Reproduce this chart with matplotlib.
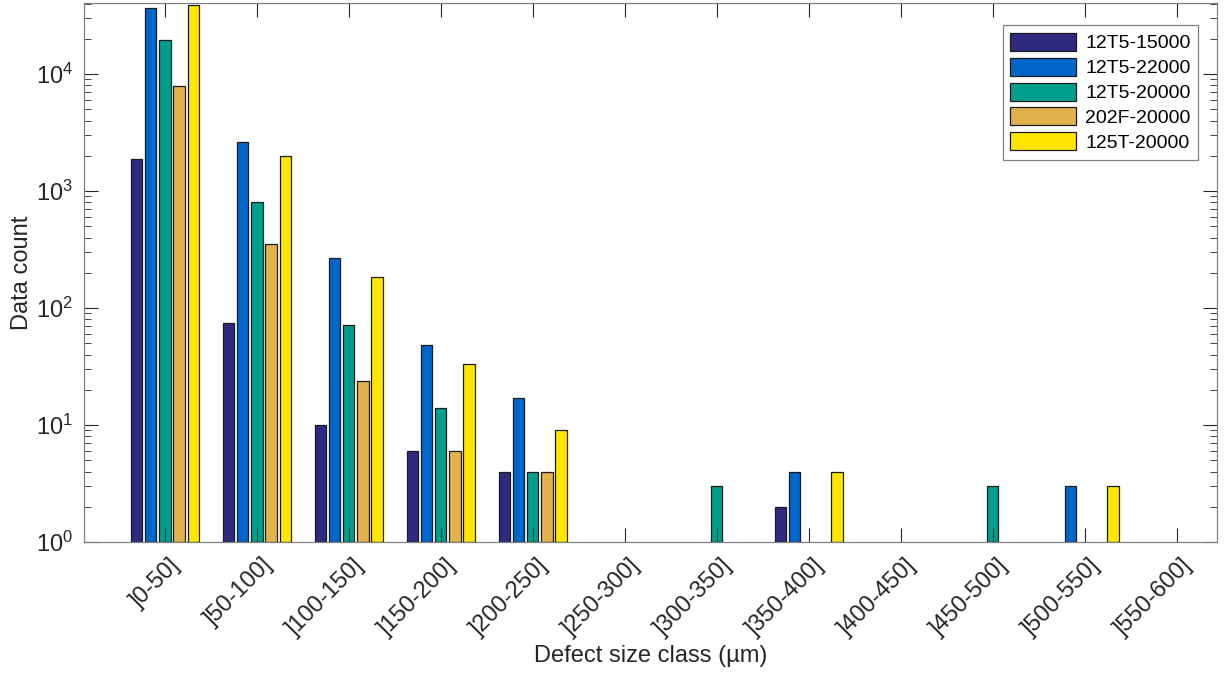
import numpy as np
import matplotlib
matplotlib.use('Agg')
import matplotlib.pyplot as plt
from matplotlib.ticker import LogLocator, NullFormatter
from matplotlib.transforms import ScaledTranslation

plt.rcParams['font.family'] = ['Liberation Sans', 'DejaVu Sans']

# size classes
classes = [']0-50]', ']50-100]', ']100-150]', ']150-200]', ']200-250]', ']250-300]',
           ']300-350]', ']350-400]', ']400-450]', ']450-500]', ']500-550]', ']550-600]']

# counts per series (0 = no bar)
s_12T5_15000 = [1880, 74, 10, 6, 4, 0, 0, 2, 0, 0, 0, 0]
s_12T5_22000 = [37000, 2620, 268, 48, 17, 0, 0, 4, 0, 0, 3, 0]
s_12T5_20000 = [19500, 800, 71, 14, 4, 0, 3, 0, 0, 3, 0, 0]
s_202F_20000 = [7900, 355, 24, 6, 4, 0, 0, 0, 0, 0, 0, 0]
s_125T_20000 = [39000, 1990, 184, 33, 9, 0, 0, 4, 0, 0, 3, 0]

labels = ['12T5-15000', '12T5-22000', '12T5-20000', '202F-20000', '125T-20000']
colors = ['#2e2a80', '#0066cc', '#009e8c', '#e2b34c', '#ffe600']
series = [s_12T5_15000, s_12T5_22000, s_12T5_20000, s_202F_20000, s_125T_20000]

fig = plt.figure(figsize=(12.24, 6.74), dpi=100)
ax = fig.add_axes([0.0686, 0.1958, 0.9257, 0.7997])

x = np.arange(1, len(classes) + 1)
n = len(series)
gw = min(0.8, n / (n + 1.5))
step = gw / n
bw = 0.8 * step

for i, (vals, lab, col) in enumerate(zip(series, labels, colors)):
    vals = np.array(vals, dtype=float)
    m = vals > 0
    off = (i - (n - 1) / 2) * step
    # bars start at the bottom of the log axis (1)
    ax.bar(x[m] + off, vals[m] - 1, width=bw, bottom=1, color=col,
           edgecolor='#1a1a1a', linewidth=0.9, label=lab)

ax.set_yscale('log')
ax.set_ylim(1, 4.05e4)
ax.set_xlim(0.12, 12.44)
ax.set_xticks(x)
ax.set_xticklabels(classes, rotation=45, ha='right', va='center', rotation_mode='anchor',
                   fontsize=17, color='#262626')
ax.yaxis.set_major_locator(LogLocator(base=10, numticks=10))
ax.yaxis.set_minor_locator(LogLocator(base=10, subs=np.arange(2, 10), numticks=10))
ax.yaxis.set_minor_formatter(NullFormatter())
ax.tick_params(axis='both', which='both', direction='in', top=True, right=True,
               color='#262626')
ax.tick_params(axis='x', which='major', length=10, pad=14)
ax.tick_params(axis='y', which='major', length=10, pad=8, labelsize=17, labelcolor='#262626')
ax.tick_params(axis='y', which='minor', length=5)
for sp in ax.spines.values():
    sp.set_color('#808080')
    sp.set_linewidth(0.9)

# nudge rotated labels to the right (after tick_params, which resets transforms)
shift = ScaledTranslation(0.12, 0, fig.dpi_scale_trans)
for t in ax.get_xticklabels():
    t.set_transform(t.get_transform() + shift)

ax.set_xlabel('Defect size class (µm)', fontsize=17, color='#262626', labelpad=4)
ax.set_ylabel('Data count', fontsize=17, color='#262626', labelpad=2)

leg = ax.legend(loc='upper right', bbox_to_anchor=(0.979, 0.963),
                bbox_transform=fig.transFigure, borderaxespad=0, fontsize=14,
                fancybox=False, framealpha=1, edgecolor='#808080', handlelength=3.4,
                handleheight=1.05, labelspacing=0.27, borderpad=0.4, handletextpad=0.45)
leg.get_frame().set_linewidth(0.9)

fig.savefig('out.png', dpi=100)
